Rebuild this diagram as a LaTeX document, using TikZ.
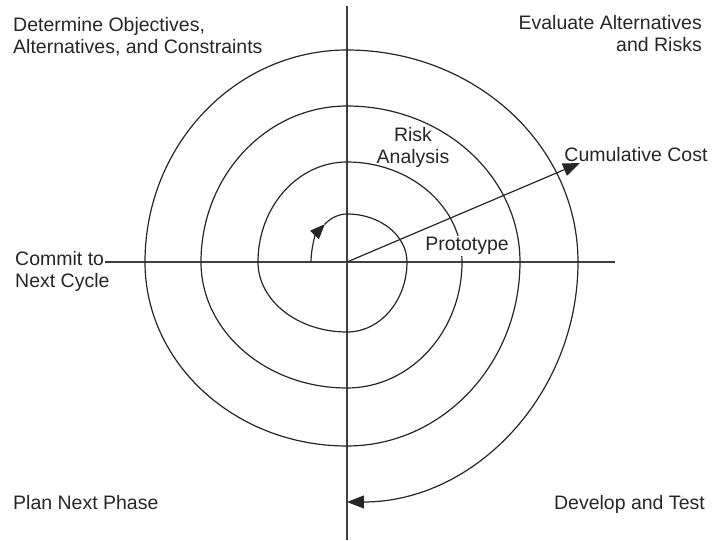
\documentclass[tikz,border=0pt]{standalone}
\usepackage{fontspec}
\setmainfont{Liberation Sans}
\usetikzlibrary{arrows.meta}

\tikzset{
    axisline/.style={line width=1.6pt, black!75},
    spiral/.style={line width=1.2pt, black!85},
    txt/.style={inner sep=0pt, text=black!85},
}

\begin{document}
\begin{tikzpicture}[x=1pt, y=1pt, font=\fontsize{19.5}{22}\selectfont]
    \useasboundingbox (-347,-279) rectangle (366,262);
    \coordinate (O) at (0,0);
    \coordinate (N) at (0,256);
    \coordinate (S) at (0,-278);
    \coordinate (E) at (268,0);
    \coordinate (W) at (-242,0);
    \coordinate (start) at (-36,0);
    \coordinate (costtip) at (233,99);

    \draw[axisline] (N) -- (S);
    \draw[axisline] (W) -- (E);

    \draw[spiral, -{Triangle[length=15pt, width=12pt]}] (start)
        arc[start angle=180, end angle=128, x radius=36, y radius=48] coordinate (turn);
    \draw[spiral, -{Triangle[length=17pt, width=13pt]}] (turn)
        arc[start angle=128, end angle=90, x radius=36, y radius=48]
        foreach \a/\rx/\ry in {90/60/48, 0/60/70, -90/89/70, 180/89/100, 90/115/100, 0/115/126,
            -90/146/126, 180/146/156, 90/173/156, 0/173/184, -90/202/184, 180/202/212,
            90/231/212, 0/231/240} {
            arc[start angle=\a, delta angle=-90, x radius=\rx, y radius=\ry]
        };

    \node[txt, anchor=north west, align=left] (objectives) at (-334,245) {Determine Objectives,\\Alternatives, and Constraints};
    \node[txt, anchor=north east, align=right] (risks) at (355,247) {Evaluate Alternatives\\and Risks};
    \node[txt, anchor=north west, align=left] (commit) at (-332,11) {Commit to\\Next Cycle};
    \node[txt, anchor=north west] (plan) at (-334,-233) {Plan Next Phase};
    \node[txt, anchor=north east] (develop) at (358,-233) {Develop and Test};
    \node[txt, anchor=north, align=center] (analysis) at (66,135) {Risk\\Analysis};
    \node[txt, anchor=north, fill=white, inner sep=1pt] (prototype) at (120,26) {Prototype};
    \node[txt, anchor=north] (cost) at (289,115) {Cumulative Cost};

    \draw[spiral, -{Triangle[length=17pt, width=13pt]}] (O) -- (costtip);
\end{tikzpicture}
\end{document}
